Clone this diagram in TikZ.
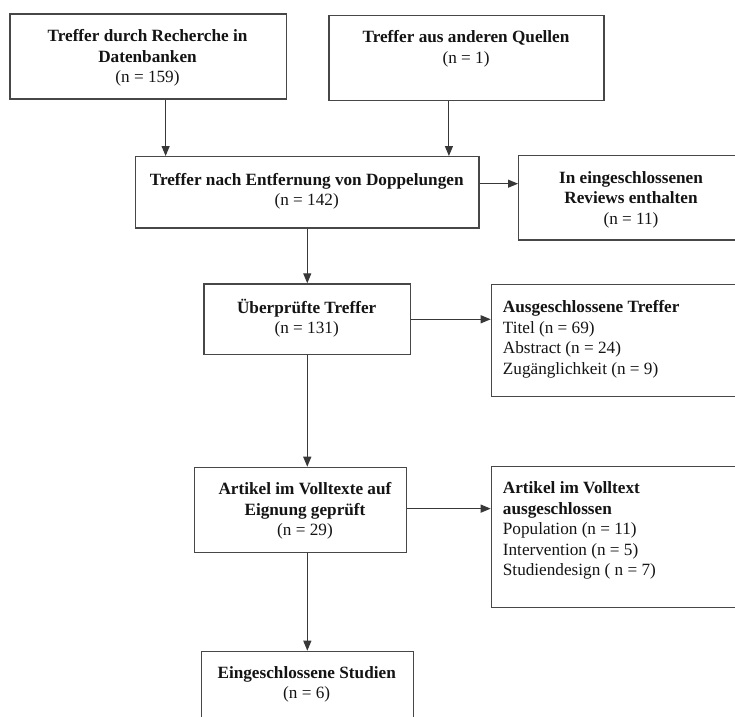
\documentclass[tikz,border=0pt]{standalone}
\usepackage{fontspec}
\setmainfont{Liberation Serif}
\usetikzlibrary{arrows.meta}
\begin{document}
\begin{tikzpicture}[x=1pt,y=-1pt,
  box/.style={draw=black!72, line width=1.25pt, inner sep=0pt, anchor=north west},
  lbl/.style={inner sep=0pt, text=black!92, font=\fontsize{17.2}{20.5}\selectfont, align=center},
  lbll/.style={lbl, align=left, anchor=west},
  arr/.style={draw=black!78, line width=1.1pt, -{Triangle[length=10pt,width=8pt]}}]
\useasboundingbox (0,0) rectangle (735,716);
\fill[white] (0,0) rectangle (735,716);
\clip (0,0) rectangle (735,716);

% boxes
\node[box, minimum width=276.4pt, minimum height=85pt]   (B1) at (9.3,13.3) {};
\node[box, minimum width=275pt,   minimum height=85.3pt] (B2) at (328.3,14.7) {};
\node[box, minimum width=343.3pt, minimum height=71.3pt] (B3) at (135,156) {};
\node[box, minimum width=240pt,   minimum height=84.3pt] (B4) at (518,155) {};
\node[box, minimum width=206.7pt, minimum height=70.7pt] (B5) at (203.3,283.3) {};
\node[box, minimum width=260pt,   minimum height=112pt]  (B6) at (490.7,284) {};
\node[box, minimum width=212pt,   minimum height=85pt]   (B7) at (194,466.7) {};
\node[box, minimum width=260pt,   minimum height=140.7pt](B8) at (490.7,466) {};
\node[box, minimum width=212pt,   minimum height=90pt]   (B9) at (200.7,650.7) {};

% texts
\node[lbl] (T1) at (147.5,58.1) {\textbf{Treffer durch Recherche in}\\\textbf{Datenbanken}\\(n = 159)};
\node[lbl] (T2) at (466,48.9) {\textbf{Treffer aus anderen Quellen}\\(n = 1)};
\node[lbl] (T3) at (306.7,191.2) {\textbf{Treffer nach Entfernung von Doppelungen}\\(n = 142)};
\node[lbl] (T4) at (631,199.5) {\textbf{In eingeschlossenen}\\\textbf{Reviews enthalten}\\(n = 11)};
\node[lbl] (T5) at (306.7,318.2) {\textbf{Überprüfte Treffer}\\(n = 131)};
\node[lbll] (T6) at (502.7,339.2) {\textbf{Ausgeschlossene Treffer}\\Titel (n = 69)\\Abstract (n = 24)\\Zugänglichkeit (n = 9)};
\node[lbl] (T7) at (305,511) {\textbf{Artikel im Volltexte auf}\\\textbf{Eignung geprüft}\\(n = 29)};
\node[lbll] (T8) at (502.7,530.6) {\textbf{Artikel im Volltext}\\\textbf{ausgeschlossen}\\Population (n = 11)\\Intervention (n = 5)\\Studiendesign ( n = 7)};
\node[lbl] (T9) at (306.7,684.4) {\textbf{Eingeschlossene Studien}\\(n = 6)};

% connectors
\draw[arr] ([xshift=17.5pt]B1.south) coordinate (a1) -- (a1 |- B3.north);
\draw[arr] ([xshift=-17.5pt]B2.south) coordinate (a2) -- (a2 |- B3.north);
\draw[arr] ([yshift=8.6pt]B3.east) coordinate (a3) -- (a3 -| B4.west);
\draw[arr] (B3.south) -- (B5.north);
\draw[arr] (B5.east) -- (B5.east -| B6.west);
\draw[arr] (B5.south) coordinate (a5) -- (a5 |- B7.north);
\draw[arr] ([yshift=1.2pt]B7.east) coordinate (a6) -- (a6 -| B8.west);
\draw[arr] ([xshift=6.7pt]B7.south) coordinate (a7) -- (a7 |- B9.north);
\end{tikzpicture}
\end{document}
